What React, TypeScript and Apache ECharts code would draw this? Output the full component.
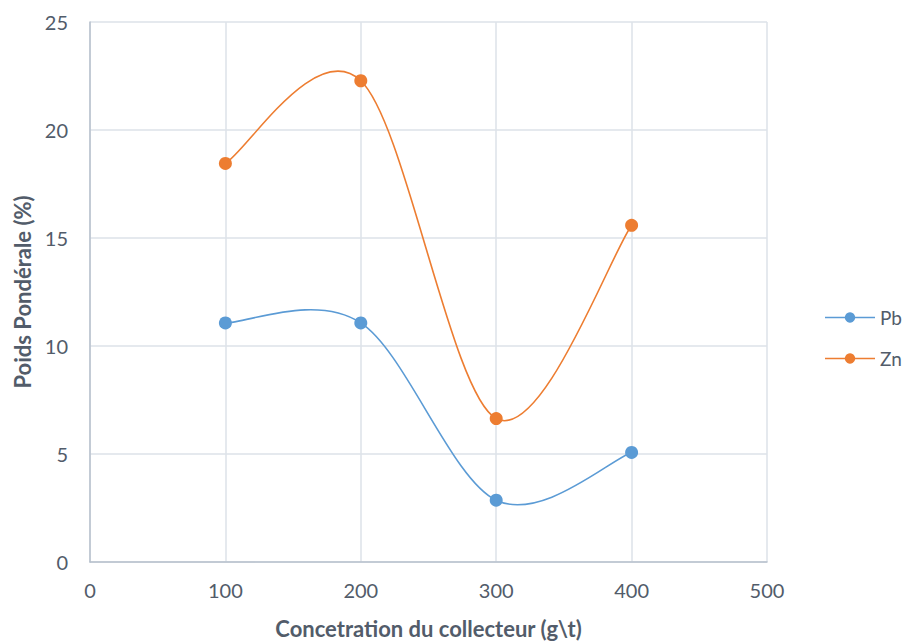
import React, { useEffect, useRef } from "react";
import * as echarts from "echarts";

const xValues = [100, 200, 300, 400];
const pbValues = [11.07, 11.07, 2.86, 5.07];
const znValues = [18.45, 22.28, 6.64, 15.59];
const seriesNames = ["Pb", "Zn"];
const seriesColors = ["#5B9BD5", "#ED7D31"];
const xTitle = "Concetration du collecteur (g\\t)";
const yTitle = "Poids Pondérale (%)";

const font = "Lato, 'Open Sans', sans-serif";
const textColor = "#525c6a";

function curveSeries(name: string, vals: number[], color: string) {
  return {
    name,
    type: "custom",
    data: xValues.map((x, i) => [x, vals[i]]),
    encode: { x: 0, y: 1 },
    silent: true,
    z: 2,
    renderItem: (params: any, api: any) => {
      const i = params.dataIndex;
      const n = xValues.length;
      if (i >= n - 1) return null;
      const p = (j: number) => {
        const k = Math.max(0, Math.min(n - 1, j));
        return api.coord([xValues[k], vals[k]]);
      };
      const p0 = p(i - 1);
      const p1 = p(i);
      const p2 = p(i + 1);
      const p3 = p(i + 2);
      const cp1 = [p1[0] + (p2[0] - p0[0]) / 6, p1[1] + (p2[1] - p0[1]) / 6];
      const cp2 = [p2[0] - (p3[0] - p1[0]) / 6, p2[1] - (p3[1] - p1[1]) / 6];
      return {
        type: "bezierCurve",
        shape: {
          x1: p1[0], y1: p1[1], x2: p2[0], y2: p2[1],
          cpx1: cp1[0], cpy1: cp1[1], cpx2: cp2[0], cpy2: cp2[1],
        },
        style: { stroke: color, lineWidth: 1.6, fill: "none" },
      };
    },
  };
}

function markerSeries(name: string, vals: number[], color: string) {
  return {
    name,
    type: "line",
    data: xValues.map((x, i) => [x, vals[i]]),
    symbol: "circle",
    symbolSize: 13,
    z: 3,
    itemStyle: { color },
    lineStyle: { color, width: 1.6, opacity: 0 },
  };
}

export default function App() {
  const ref = useRef<HTMLDivElement>(null);
  useEffect(() => {
    if (!ref.current) return;
    const chart = echarts.init(ref.current, undefined, { renderer: "svg" });
    chart.setOption({
      animation: false,
      textStyle: { fontFamily: font },
      grid: { left: 90, right: 142, top: 22, bottom: 80, containLabel: false },
      legend: {
        orient: "vertical",
        right: 2,
        top: 303,
        itemWidth: 50,
        itemHeight: 13,
        itemGap: 22,
        textStyle: { fontSize: 19, color: textColor, fontFamily: font },
        data: seriesNames.map((n, i) => ({
          name: n,
          lineStyle: { color: seriesColors[i], width: 1.6, opacity: 1 },
        })),
      },
      xAxis: {
        type: "value",
        min: 0,
        max: 500,
        interval: 100,
        name: xTitle,
        nameLocation: "middle",
        nameGap: 55,
        nameTextStyle: { fontSize: 22, fontWeight: "bold", color: textColor, fontFamily: font },
        axisLine: { show: true, lineStyle: { color: "#b7c0cc", width: 1.5 } },
        axisTick: { show: false },
        axisLabel: { fontSize: 20, color: textColor, margin: 18, fontFamily: font },
        splitLine: { show: true, lineStyle: { color: "#dde2e8", width: 1.5 } },
      },
      yAxis: {
        type: "value",
        min: 0,
        max: 25,
        interval: 5,
        name: yTitle,
        nameLocation: "middle",
        nameGap: 57,
        nameTextStyle: { fontSize: 22, fontWeight: "bold", color: textColor, fontFamily: font },
        axisLine: { show: true, lineStyle: { color: "#b7c0cc", width: 1.5 } },
        axisTick: { show: false },
        axisLabel: { fontSize: 20, color: textColor, margin: 22, fontFamily: font },
        splitLine: { show: true, lineStyle: { color: "#dde2e8", width: 1.5 } },
      },
      series: [
        curveSeries("Pb curve", pbValues, seriesColors[0]),
        curveSeries("Zn curve", znValues, seriesColors[1]),
        markerSeries(seriesNames[0], pbValues, seriesColors[0]),
        markerSeries(seriesNames[1], znValues, seriesColors[1]),
      ],
    });
    return () => chart.dispose();
  }, []);
  return <div ref={ref} style={{ width: 909, height: 644, position: "absolute", left: 0, top: 0 }} />;
}
